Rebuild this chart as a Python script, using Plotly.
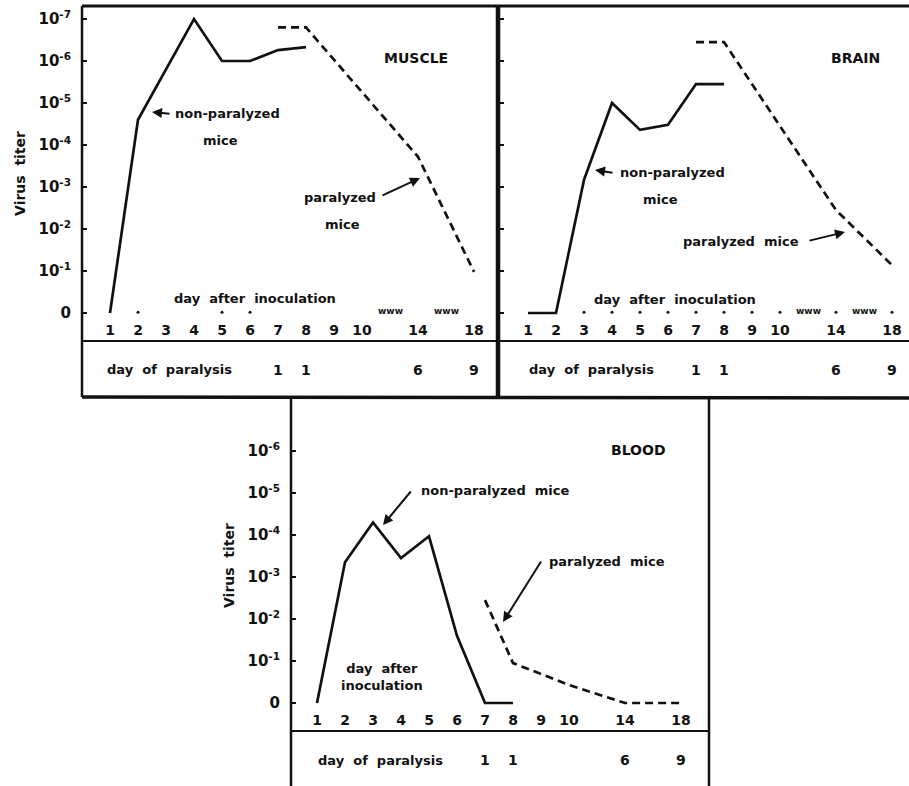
import plotly.graph_objects as go

W, H = 909, 786

# ---------------- data ----------------
# titer expressed as exponent n of 10^-n (0 = no virus detected)
day_ticks = [1, 2, 3, 4, 5, 6, 7, 8, 9, 10, 14, 18]
day_tick_labels = ["1", "2", "3", "4", "5", "6", "7", "8", "9", "10", "14", "18"]
titer_ticks = [0, 1, 2, 3, 4, 5, 6, 7]
titer_labels = ["0", "10<sup>-1</sup>", "10<sup>-2</sup>", "10<sup>-3</sup>",
                "10<sup>-4</sup>", "10<sup>-5</sup>", "10<sup>-6</sup>", "10<sup>-7</sup>"]

paralysis_inoc_days = [7, 8, 14, 18]
paralysis_day_labels = ["1", "1", "6", "9"]

muscle_np_days = [1, 2, 3, 4, 5, 6, 7, 8]
muscle_np = [0, 4.6, 5.8, 7.0, 6.0, 6.0, 6.26, 6.33]
muscle_p_days = [7, 8, 14, 18]
muscle_p = [6.8, 6.8, 3.72, 0.98]

brain_np_days = [1, 2, 3, 4, 5, 6, 7, 8]
brain_np = [0, 0, 3.17, 5.0, 4.36, 4.48, 5.45, 5.45]
brain_p_days = [7, 8, 14, 18]
brain_p = [6.45, 6.45, 2.45, 1.14]

blood_np_days = [1, 2, 3, 4, 5, 6, 7, 8]
blood_np = [0, 3.35, 4.3, 3.45, 3.97, 1.6, 0, 0]
blood_p_days = [7, 8, 10, 14, 18]
blood_p = [2.45, 0.95, 0.43, 0, 0]

muscle_dot_days = [2, 5, 6]
brain_dot_days = [3, 4, 5, 6, 7, 8, 9, 10, 14, 18]


# broken day axis: days 1-10 evenly, then 14 and 18 after gaps
def dpos(d):
    return d - 1 if d <= 10 else {14: 11, 18: 13}[d]


def px(x):
    return x / W


def py(y):
    return 1 - y / H


FONT = "DejaVu Sans"
INK = "#111111"

fig = go.Figure()

panels = [
    dict(sfx="", np=(muscle_np_days, muscle_np), p=(muscle_p_days, muscle_p),
         L=82, R=498, T=6, D=341, zero=313, d1=110, prow=370),
    dict(sfx="2", np=(brain_np_days, brain_np), p=(brain_p_days, brain_p),
         L=499, R=909, T=6, D=341, zero=313, d1=528, prow=370),
    dict(sfx="3", np=(blood_np_days, blood_np), p=(blood_p_days, blood_p),
         L=291, R=709, T=400, D=731, zero=703, d1=317, prow=760),
]
XS = 28.0   # px per day unit
YS = 42.0   # px per decade

for i, pnl in enumerate(panels):
    xa = "x" + pnl["sfx"]
    ya = "y" + pnl["sfx"]
    nd, nv = pnl["np"]
    pd_, pv = pnl["p"]
    fig.add_trace(go.Scatter(x=[dpos(d) for d in nd], y=nv, mode="lines",
                             line=dict(color=INK, width=2.7), xaxis=xa, yaxis=ya,
                             showlegend=False, hoverinfo="skip"))
    fig.add_trace(go.Scatter(x=[dpos(d) for d in pd_], y=pv, mode="lines",
                             line=dict(color=INK, width=2.7, dash="8px,5px"),
                             xaxis=xa, yaxis=ya, showlegend=False, hoverinfo="skip"))
    x0 = (pnl["L"] - pnl["d1"]) / XS
    x1 = (pnl["R"] - pnl["d1"]) / XS
    y0 = (pnl["zero"] - pnl["D"]) / YS
    y1 = (pnl["zero"] - pnl["T"]) / YS
    xkey = "xaxis" + pnl["sfx"]
    ykey = "yaxis" + pnl["sfx"]
    fig.layout[xkey] = dict(
        domain=[px(pnl["L"]), px(pnl["R"])], range=[x0, x1], anchor=ya,
        tickvals=[dpos(d) for d in day_ticks], ticktext=day_tick_labels,
        ticklabelposition="inside", ticks="", showgrid=False, zeroline=False,
        showline=False, tickfont=dict(family=FONT, size=14, color=INK, weight="bold"),
    )
    if i == 2:
        tv, tt = titer_ticks[:7], titer_labels[:7]
    else:
        tv, tt = titer_ticks, titer_labels
    yd = dict(
        domain=[py(pnl["D"]), py(pnl["T"])], range=[y0, y1], anchor=xa,
        tickvals=tv, ticktext=tt, showticklabels=(i != 1),
        ticks="inside", ticklen=5, tickwidth=2, tickcolor=INK, ticklabelstandoff=10,
        showgrid=False, zeroline=False, showline=False,
        tickfont=dict(family=FONT, size=15, color=INK, weight="bold"),
    )
    if i != 1:
        yd["title"] = dict(text="Virus  titer",
                           font=dict(family=FONT, size=14, color=INK, weight="bold"),
                           standoff=9)
    fig.layout[ykey] = yd
    # day-of-paralysis row
    for d, lab in zip(paralysis_inoc_days, paralysis_day_labels):
        fig.add_annotation(x=dpos(d), y=py(pnl["prow"]), xref=xa, yref="paper", text=lab,
                           showarrow=False, xanchor="center", yanchor="middle",
                           font=dict(family=FONT, size=14, color=INK, weight="bold"))

# baseline dots
fig.add_trace(go.Scatter(x=[dpos(d) for d in muscle_dot_days], y=[0.02] * len(muscle_dot_days),
                         mode="markers", marker=dict(size=3, color=INK), xaxis="x", yaxis="y",
                         showlegend=False, hoverinfo="skip"))
fig.add_trace(go.Scatter(x=[dpos(d) for d in brain_dot_days], y=[0.02] * len(brain_dot_days),
                         mode="markers", marker=dict(size=3, color=INK), xaxis="x2", yaxis="y2",
                         showlegend=False, hoverinfo="skip"))

# break marks
for xa, ya in (("x", "y"), ("x2", "y2")):
    for xb in (10, 12):
        fig.add_annotation(x=xb, y=0.05, xref=xa, yref=ya, text="www", showarrow=False,
                           xanchor="center", yanchor="middle",
                           font=dict(family=FONT, size=9, color=INK, weight="bold"))


# frames
def line(x0, y0, x1, y1, w=2.5):
    fig.add_shape(type="line", xref="paper", yref="paper",
                  x0=px(x0), y0=py(y0), x1=px(x1), y1=py(y1),
                  line=dict(color=INK, width=w))


line(82, 6, 909, 6, 3)          # top
line(82, 6, 82, 397, 2.5)       # muscle left
line(498, 6, 498, 398, 4.5)     # muscle/brain separator
line(82, 341, 909, 341, 2)      # divider upper
line(82, 397, 909, 398, 3.5)    # bottom upper
line(291, 398, 291, 786, 2.5)   # blood left
line(709, 398, 709, 786, 2.5)   # blood right
line(291, 731, 709, 731, 2)     # blood divider


# text labels
def txt(x, y, s, size=13):
    fig.add_annotation(x=px(x), y=py(y), xref="paper", yref="paper", text=s, showarrow=False,
                       xanchor="center", yanchor="middle",
                       font=dict(family=FONT, size=size, color=INK, weight="bold"))


def arrow(tx, ty, fx, fy):
    fig.add_annotation(x=px(tx), y=py(ty), xref="paper", yref="paper", text="",
                       showarrow=True, ax=fx - tx, ay=fy - ty, arrowhead=2, arrowsize=1,
                       arrowwidth=2, arrowcolor=INK)


txt(416, 58, "MUSCLE", 14)
txt(227, 113, "non-paralyzed")
txt(220, 140, "mice")
txt(340, 198, "paralyzed")
txt(342, 225, "mice")
txt(255, 298, "day  after  inoculation")
txt(169, 370, "day  of  paralysis")
arrow(152, 112, 171, 114)
arrow(420, 178, 381, 196)

txt(855, 58, "BRAIN", 14)
txt(672, 172, "non-paralyzed")
txt(660, 199, "mice")
txt(741, 241, "paralyzed  mice")
txt(675, 299, "day  after  inoculation")
txt(591, 370, "day  of  paralysis")
arrow(595, 170, 614, 173)
arrow(845, 232, 808, 241)

txt(638, 450, "BLOOD", 14)
txt(495, 490, "non-paralyzed  mice")
txt(607, 561, "paralyzed  mice")
txt(382, 677, "day  after<br>inoculation")
txt(380, 760, "day  of  paralysis")
arrow(383, 525, 412, 490)
arrow(503, 622, 542, 560)

fig.update_layout(width=W, height=H, margin=dict(l=0, r=0, t=0, b=0),
                  paper_bgcolor="white", plot_bgcolor="white", showlegend=False)

fig.write_html("out.html", config={"displayModeBar": False},
               post_script="document.body.style.margin='0px';")
